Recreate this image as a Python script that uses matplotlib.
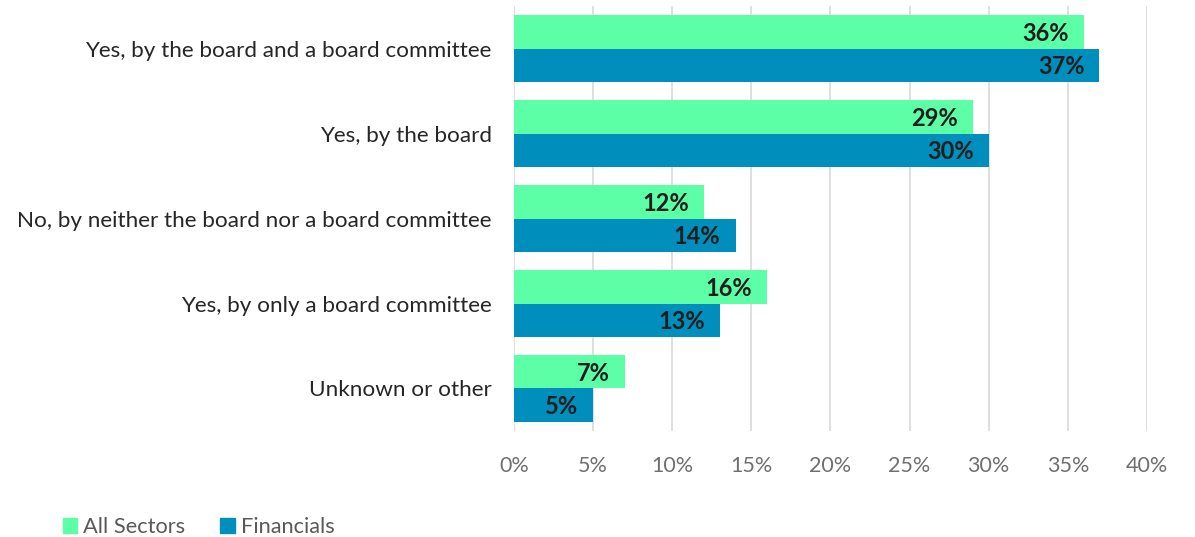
import matplotlib
matplotlib.use("Agg")
import matplotlib.pyplot as plt
from matplotlib.patches import Patch

categories = [
    "Yes, by the board and a board committee",
    "Yes, by the board",
    "No, by neither the board nor a board committee",
    "Yes, by only a board committee",
    "Unknown or other",
]
all_sectors = [36, 29, 12, 16, 7]
financials = [37, 30, 14, 13, 5]
series_names = ["All Sectors", "Financials"]
xticks = [0, 5, 10, 15, 20, 25, 30, 35, 40]

green = "#5cffa5"
blue = "#008fbd"
plt.rcParams["font.family"] = ["Lato", "DejaVu Sans"]

fig = plt.figure(figsize=(11.95, 5.37), dpi=100)
ax = fig.add_axes([0.4301, 0.1974, 0.5297, 0.7914])

n = len(categories)
pos = list(range(n))
h = 0.395
g_y = [p - h / 2 for p in pos]
b_y = [p + h / 2 for p in pos]
ax.barh(g_y, all_sectors, height=h, color=green, zorder=2)
ax.barh(b_y, financials, height=h, color=blue, zorder=2)

for ys, vals in ((g_y, all_sectors), (b_y, financials)):
    for y, v in zip(ys, vals):
        ax.text(v - 0.95, y + 0.02, f"{v}%", ha="right", va="center",
                fontsize=17, fontweight="bold", color="#1e1e1e", zorder=3)

ax.set_xlim(0, 40)
ax.set_ylim(n - 0.5, -0.5)
ax.set_xticks(xticks)
ax.set_xticklabels([f"{t}%" for t in xticks], color="#6f6f6f", fontsize=15.5)
ax.set_yticks(pos)
ax.set_yticklabels(categories, fontsize=16.2, color="#262626")
ax.tick_params(axis="both", length=0)
ax.tick_params(axis="x", pad=18)
ax.tick_params(axis="y", pad=16)
ax.grid(axis="x", color="#d9d9d9", linewidth=1.2, zorder=0)
for s in ax.spines.values():
    s.set_visible(False)

handles = [Patch(color=green), Patch(color=blue)]
fig.legend(handles, series_names, loc="lower left", bbox_to_anchor=(0.036, -0.037),
           ncol=2, frameon=False, fontsize=15.7, handlelength=0.65, handleheight=0.65,
           handletextpad=0.3, columnspacing=1.6, labelcolor="#595959")

fig.savefig("out.png", dpi=100)
